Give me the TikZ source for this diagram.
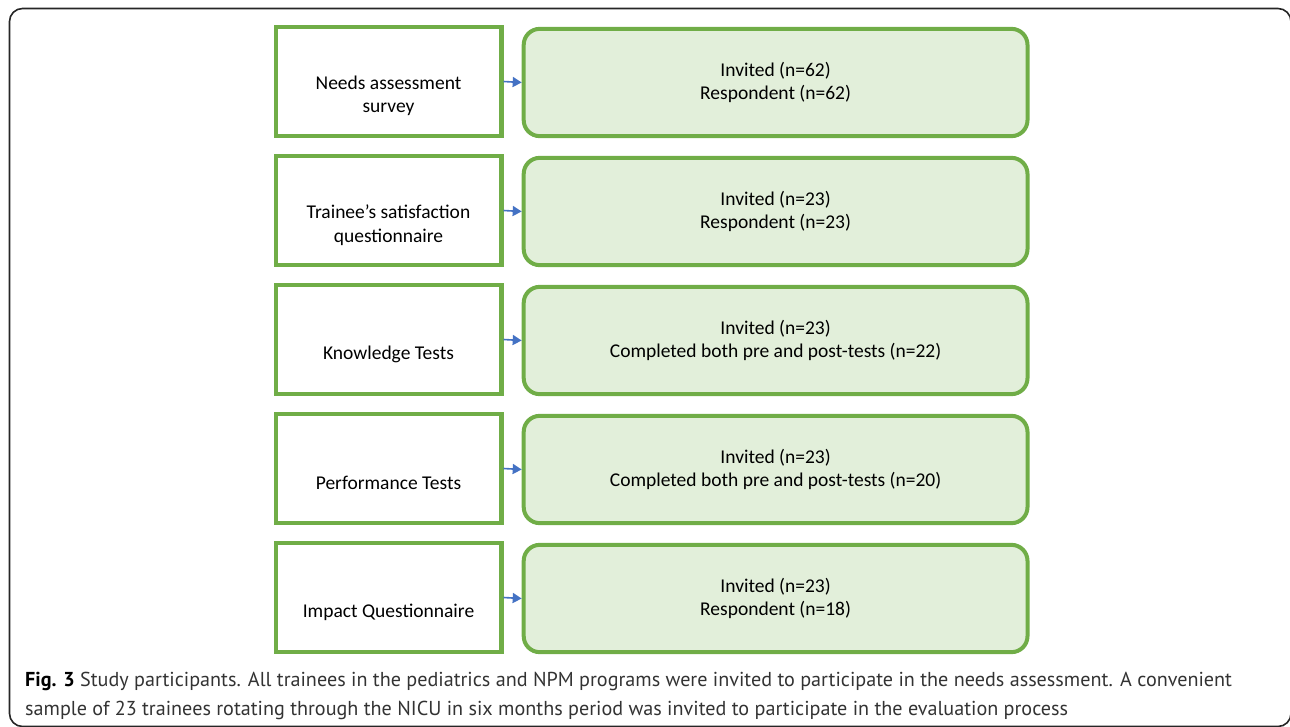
\documentclass[tikz,border=0pt]{standalone}
\usepackage{fontspec}
\setmainfont{Carlito}
\newfontfamily\capfont{PT Sans}
\usepackage{xcolor}
\usetikzlibrary{arrows.meta}

\definecolor{boxgreen}{HTML}{70AD47}
\definecolor{boxfill}{HTML}{E2EFDA}
\definecolor{arrowblue}{HTML}{4472C4}
\definecolor{capgray}{HTML}{333333}

\tikzset{
    toolbox/.style={draw=boxgreen, line width=4.5pt, minimum width=225.5pt, minimum height=108.6pt, inner sep=0pt},
    toollabel/.style={align=center, font=\fontsize{19.5}{23.5}\selectfont, inner sep=0pt},
    countbox/.style={draw=boxgreen, fill=boxfill, line width=4pt, rounded corners=16pt, minimum width=503.8pt, minimum height=107.3pt, align=center, font=\fontsize{19.5}{23.5}\selectfont},
    link/.style={draw=arrowblue, line width=1.6pt, -{Triangle[length=9pt,width=10pt]}}
}

\begin{document}
\begin{tikzpicture}[x=1pt,y=-1pt]
    \useasboundingbox (0,0) rectangle (1290,726);

    % Outer frame
    \draw[line width=1.6pt, color=black!85, rounded corners=13pt] (9.5,8.5) rectangle (1291,726.5);

    % Needs assessment
    \node[toolbox] (needs) at (388.5,81.5) {};
    \node[toollabel] at ([yshift=-14.5pt]needs.center) {Needs assessment\\survey};
    \node[countbox] (needsN) at (775.6,82.5) {Invited (n=62)\\Respondent (n=62)};

    % Satisfaction questionnaire
    \node[toolbox] (satis) at (388.5,210.5) {};
    \node[toollabel] at ([yshift=-14.5pt]satis.center) {Trainee’s satisfaction\\questionnaire};
    \node[countbox] (satisN) at (775.6,211.5) {Invited (n=23)\\Respondent (n=23)};

    % Knowledge tests
    \node[toolbox] (know) at (388.5,339.5) {};
    \node[toollabel] at ([yshift=-14.5pt]know.center) {Knowledge Tests};
    \node[countbox] (knowN) at (775.6,340.5) {Invited (n=23)\\Completed both pre and post-tests (n=22)};

    % Performance tests
    \node[toolbox] (perf) at (388.5,468.5) {};
    \node[toollabel] at ([yshift=-14.5pt]perf.center) {Performance Tests};
    \node[countbox] (perfN) at (775.6,469.5) {Invited (n=23)\\Completed both pre and post-tests (n=20)};

    % Impact questionnaire
    \node[toolbox] (impact) at (388.5,597.5) {};
    \node[toollabel] at ([yshift=-14.5pt]impact.center) {Impact Questionnaire};
    \node[countbox] (impactN) at (775.6,598.5) {Invited (n=23)\\Respondent (n=18)};

    % Arrows
    \draw[link] (needs.east) -- (needsN.west);
    \draw[link] (satis.east) -- (satisN.west);
    \draw[link] (know.east) -- (knowN.west);
    \draw[link] (perf.east) -- (perfN.west);
    \draw[link] (impact.east) -- (impactN.west);

    % Caption
    \node[anchor=north west, align=left, inner sep=0pt, text=capgray, font=\capfont\fontsize{20.15}{29}\selectfont] (caption) at (25,672)
        {\textcolor{black}{\textbf{Fig. 3}} Study participants. All trainees in the pediatrics and NPM programs were invited to participate in the needs assessment. A convenient\\
        sample of 23 trainees rotating through the NICU in six months period was invited to participate in the evaluation process};

\end{tikzpicture}
\end{document}
